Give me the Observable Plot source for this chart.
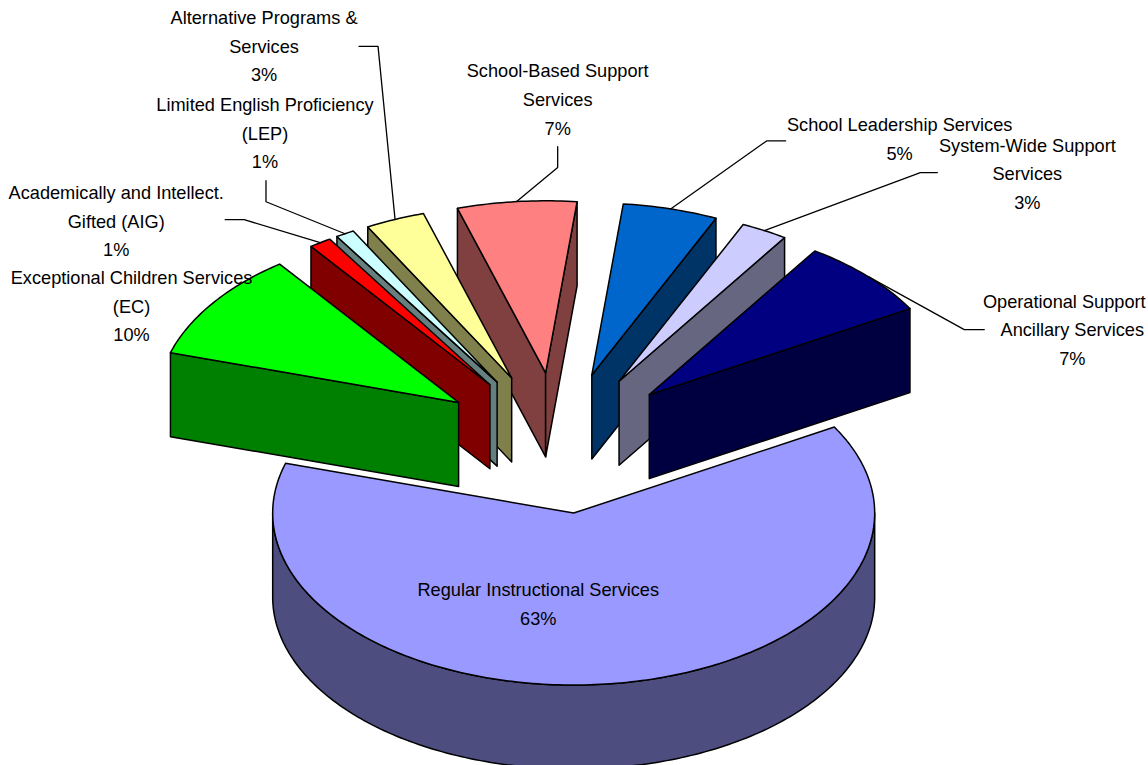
<!DOCTYPE html>
<html>
<head>
<meta charset="utf-8">
<style>
html,body{margin:0;padding:0;background:#fff;overflow:hidden}
svg{display:block}
</style>
<script src="https://cdn.jsdelivr.net/npm/d3@7"></script>
<script src="https://cdn.jsdelivr.net/npm/@observablehq/plot@0.6"></script>
</head>
<body>
<script>
// Chart data, clockwise from the first slice
const categories = [
  ["Regular Instructional Services"],
  ["Exceptional Children Services", "(EC)"],
  ["Academically and Intellect.", "Gifted (AIG)"],
  ["Limited English Proficiency", "(LEP)"],
  ["Alternative Programs &", "Services"],
  ["School-Based Support", "Services"],
  ["School Leadership Services"],
  ["System-Wide Support", "Services"],
  ["Operational Support", "Ancillary Services"]
];
// Slice sizes as measured from the drawing, and the percentages printed on it
const shares = [63, 10.2, 1.2, 1, 3.2, 6.4, 5.1, 2.5, 7.4];
const printedPercents = [63, 10, 1, 1, 3, 7, 5, 3, 7];
const topColors = ["#9999ff", "#00ff00", "#ff0000", "#ccffff", "#ffff99", "#ff8080", "#0066cc", "#ccccff", "#000080"];
const wallColors = ["#4d4d80", "#008000", "#800000", "#668080", "#80804d", "#804040", "#003366", "#666680", "#000040"];

// Pie geometry
const W = 1148, H = 765;
const cx = 559, cy = 442.5, rx = 301, ry = 172, depth = 84, explode = 0.41, startAngle = 60;
const apexNudge = {5: -2};
const rad = d => d * Math.PI / 180;
const dir = t => [rx * Math.sin(rad(t)), -ry * Math.cos(rad(t))];
let acc = startAngle;
const slices = shares.map((v, i) => {
  const a = acc, b = acc + v * 3.6; acc = b;
  const m = (a + b) / 2, [dx, dy] = dir(m);
  const apex = [cx + explode * dx + (apexNudge[i] || 0), cy + explode * dy];
  const at = (t, d = 0) => { const [u, w] = dir(t); return [apex[0] + u, apex[1] + w + d]; };
  const arc = (p, q, d = 0) => d3.range(0, 1.0001, 1 / Math.max(2, Math.ceil(q - p))).map(f => at(p + (q - p) * f, d));
  return {i, a, b, apex, at, arc, mid: at(m)};
});

const poly = (pts, fill) => Plot.line(pts, {
  x: d => d[0], y: d => d[1], curve: "linear-closed", fill,
  stroke: "#000", strokeWidth: 1.5, strokeLinejoin: "round"
});
function faces(s) {
  const out = [], c = wallColors[s.i];
  const [ax, ay] = s.apex;
  // outer wall (front half of the ellipse only)
  const lo = Math.max(s.a, 90), hi = Math.min(s.b, 270);
  if (hi > lo) out.push(poly([...s.arc(lo, hi), ...s.arc(lo, hi, depth).reverse()], c));
  if (Math.sin(rad(s.a)) < 0) out.push(poly([[ax, ay], s.at(s.a), s.at(s.a, depth), [ax, ay + depth]], c));
  if (Math.sin(rad(s.b)) > 0) out.push(poly([[ax, ay], s.at(s.b), s.at(s.b, depth), [ax, ay + depth]], c));
  out.push(poly([[ax, ay], ...s.arc(s.a, s.b)], topColors[s.i]));
  return out;
}
const paintOrder = [0, 5, 4, 3, 2, 1, 6, 7, 8];

// Label placement, as pixel offsets from the midpoint of each slice's rim
const labelOffset = [[-70, -79], [-81, 3.5], [-204, -21], [-80, -100], [-131, -172.5], [41, -101.5], [229, -69], [263, -56], [204, 54]];
const leaderOffset = [null, null,
  [[-95, -23], [-76, -23]],
  [[-79, -53], [-79, -32]],
  [[-36, -173], [-17, -173]],
  [[41, -55], [41, -34]],
  [[115, -68], [96, -68]],
  [[173, -58], [156, -58]],
  [[116, 53], [96, 53]]];
const lineNudge = {"Operational Support": -8};
const lineH = 28.7;

const textRows = slices.flatMap(s => {
  const lines = [...categories[s.i], printedPercents[s.i] + "%"];
  const [ox, oy] = labelOffset[s.i];
  return lines.map((t, k) => ({
    t, x: s.mid[0] + ox + (lineNudge[t] || 0),
    y: s.mid[1] + oy + (k - (lines.length - 1) / 2) * lineH
  }));
});
const leaders = slices.filter(s => leaderOffset[s.i]).map(s =>
  Plot.line([...leaderOffset[s.i].map(o => [s.mid[0] + o[0], s.mid[1] + o[1]]), s.mid], {
    x: d => d[0], y: d => d[1], stroke: "#000", strokeWidth: 1.3
  }));

const chart = Plot.plot({
  width: W, height: H,
  marginTop: 0, marginRight: 0, marginBottom: 0, marginLeft: 0,
  x: {domain: [0, W], range: [0, W], axis: null},
  y: {domain: [0, H], range: [0, H], axis: null},
  style: {background: "#fff"},
  marks: [
    ...paintOrder.flatMap(i => faces(slices[i])),
    ...leaders,
    Plot.text(textRows, {
      x: "x", y: "y", text: "t", fill: "#000", textAnchor: "middle", lineAnchor: "middle",
      fontFamily: "Liberation Sans", fontSize: 18.2, stroke: "none"
    })
  ]
});
document.body.appendChild(chart);
</script>
</body>
</html>
